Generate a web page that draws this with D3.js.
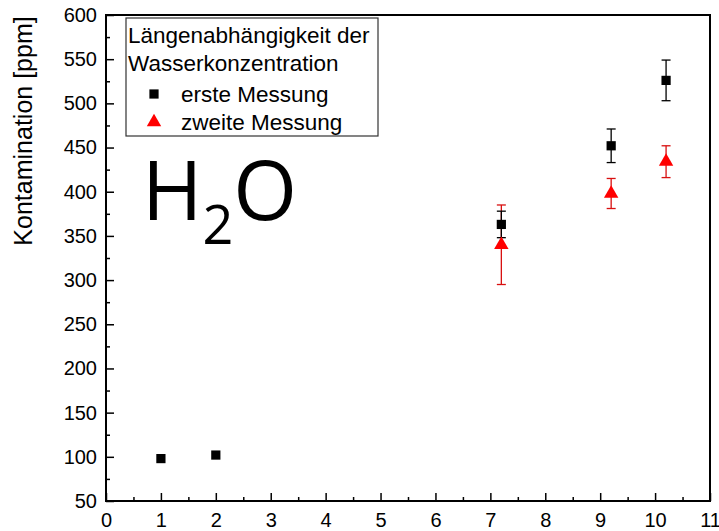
<!DOCTYPE html>
<html>
<head>
<meta charset="utf-8">
<script src="https://cdn.jsdelivr.net/npm/d3@7"></script>
<style>
  html, body { margin: 0; padding: 0; background: #fff; }
  svg { display: block; }
  text { font-family: "Liberation Sans", Arial, sans-serif; fill: #000; }
</style>
</head>
<body>
<svg id="chart" width="719" height="531"></svg>
<script>
// Sample length (x) and measured water contamination in ppm
const firstX   = [1, 2, 7.2, 9.2, 10.2];
const firstY   = [98, 102, 363, 452, 526];
const firstErr = [0, 0, 15, 19, 23];

const secondX   = [7.2, 9.2, 10.2];
const secondY   = [340, 398, 434];
const secondErr = [45, 17, 18];

const xTicks = [0, 1, 2, 3, 4, 5, 6, 7, 8, 9, 10, 11];
const yTicks = [50, 100, 150, 200, 250, 300, 350, 400, 450, 500, 550, 600];

const legendTitle = ["Längenabhängigkeit der", "Wasserkonzentration"];
const seriesNames = ["erste Messung", "zweite Messung"];

const first = firstX.map((x, i) => ({ x, y: firstY[i], e: firstErr[i] }));
const second = secondX.map((x, i) => ({ x, y: secondY[i], e: secondErr[i] }));

const svg = d3.select("#chart");
const L = 106, R = 710, T = 15, B = 501;

const x = d3.scaleLinear().domain([0, 11]).range([L, R]);
const y = d3.scaleLinear().domain([50, 600]).range([B, T]);

// Frame
svg.append("rect")
  .attr("x", L).attr("y", T).attr("width", R - L).attr("height", B - T)
  .attr("fill", "none").attr("stroke", "#000").attr("stroke-width", 2);

// Axes with inward ticks
const xMinor = d3.range(0.5, 11, 1);
const yMinor = d3.range(75, 600, 50);

const gx = svg.append("g").attr("transform", `translate(0,${B})`);
gx.call(d3.axisTop(x).tickValues(xMinor).tickSize(4).tickFormat(""));
gx.call(g => g.append("g").call(d3.axisTop(x).tickValues(xTicks).tickSize(8).tickFormat(d3.format("d"))));
gx.selectAll(".domain").remove();
gx.selectAll("line").attr("stroke", "#000").attr("stroke-width", 1.5);
gx.selectAll("text")
  .attr("transform", "translate(0,37)")
  .style("font-size", "20px").style("font-family", "Liberation Sans, Arial, sans-serif")
  .attr("fill", "#000");

const gy = svg.append("g").attr("transform", `translate(${L},0)`);
gy.call(d3.axisRight(y).tickValues(yMinor).tickSize(4).tickFormat(""));
gy.call(g => g.append("g").call(d3.axisRight(y).tickValues(yTicks).tickSize(8).tickFormat(d3.format("d"))));
gy.selectAll(".domain").remove();
gy.selectAll("line").attr("stroke", "#000").attr("stroke-width", 1.5);
gy.selectAll("text")
  .attr("x", -9).attr("text-anchor", "end")
  .style("font-size", "20px").style("font-family", "Liberation Sans, Arial, sans-serif")
  .attr("fill", "#000");

// Y axis title
svg.append("text")
  .attr("transform", `translate(32,131) rotate(-90)`)
  .attr("text-anchor", "middle")
  .style("font-size", "25px")
  .text("Kontamination [ppm]");

// Error bars
function errorBars(data, color) {
  const g = svg.append("g").attr("stroke", color).attr("stroke-width", 1.3);
  data.filter(d => d.e > 0).forEach(d => {
    const cx = x(d.x), y1 = y(d.y + d.e), y0 = y(d.y - d.e);
    g.append("line").attr("x1", cx).attr("x2", cx).attr("y1", y1).attr("y2", y0);
    g.append("line").attr("x1", cx - 4.5).attr("x2", cx + 4.5).attr("y1", y1).attr("y2", y1);
    g.append("line").attr("x1", cx - 4.5).attr("x2", cx + 4.5).attr("y1", y0).attr("y2", y0);
  });
}
errorBars(second, "#d81010");
errorBars(first, "#000");

const square = d3.symbol().type(d3.symbolSquare).size(85);
const triangle = d3.symbol().type(d3.symbolTriangle).size(90);

svg.append("g").selectAll("path").data(first).join("path")
  .attr("d", square)
  .attr("transform", d => `translate(${x(d.x)},${y(d.y)})`)
  .attr("fill", "#000");

svg.append("g").selectAll("path").data(second).join("path")
  .attr("d", triangle)
  .attr("transform", d => `translate(${x(d.x)},${y(d.y)})`)
  .attr("fill", "#ff0000");

// Legend
const lg = svg.append("g");
lg.append("rect")
  .attr("x", 126).attr("y", 18).attr("width", 252).attr("height", 118)
  .attr("fill", "#fff").attr("stroke", "#333").attr("stroke-width", 1.2);
legendTitle.forEach((t, i) => {
  lg.append("text").attr("x", 128).attr("y", 43 + i * 28)
    .style("font-size", "22.5px").text(t);
});
seriesNames.forEach((t, i) => {
  const cy = 94 + i * 28;
  lg.append("path")
    .attr("d", i === 0 ? square() : triangle())
    .attr("transform", `translate(154,${cy})`)
    .attr("fill", i === 0 ? "#000" : "#ff0000");
  lg.append("text").attr("x", 181).attr("y", cy + 8)
    .style("font-size", "22.5px").text(t);
});

// Chemical formula annotation
const f = svg.append("text")
  .attr("x", 142).attr("y", 220)
  .style("font-family", "'Open Sans', 'Noto Sans', sans-serif")
  .style("font-size", "82px");
f.append("tspan").text("H");
f.append("tspan").attr("dy", 24).style("font-size", "54px").text("2");
f.append("tspan").attr("dy", -24).text("O");
</script>
</body>
</html>
